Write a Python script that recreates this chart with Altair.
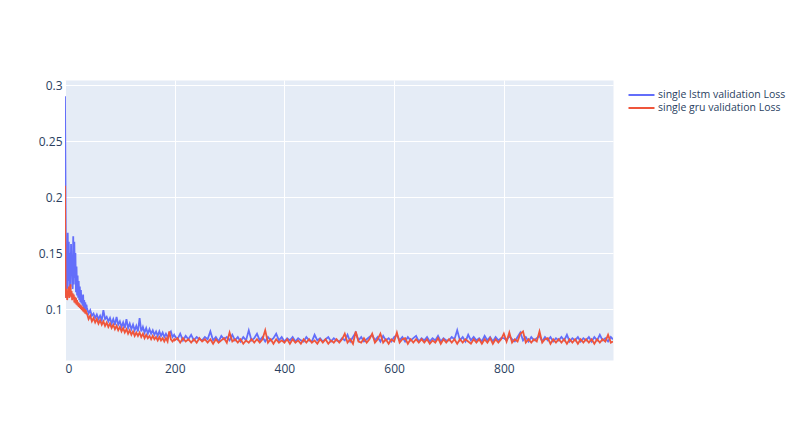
import altair as alt
import pandas as pd

# epochs (dense early, sparser later)
early_epochs = list(range(0, 40))
mid_epochs = list(range(40, 200, 3))
late_epochs = list(range(200, 1000, 5)) + [999]

series_names = ["single lstm validation Loss", "single gru validation Loss"]
series_colors = ["#636EFA", "#EF553B"]

lstm_early = [0.290, 0.205, 0.110, 0.150, 0.118, 0.168, 0.125, 0.160, 0.113, 0.150,
              0.120, 0.158, 0.130, 0.145, 0.118, 0.165, 0.122, 0.160, 0.128, 0.150,
              0.115, 0.138, 0.112, 0.130, 0.110, 0.125, 0.108, 0.120, 0.106, 0.117,
              0.105, 0.112, 0.103, 0.113, 0.101, 0.108, 0.100, 0.106, 0.099, 0.104]
lstm_mid = [0.101, 0.096, 0.099, 0.094, 0.096, 0.092, 0.095, 0.091, 0.094, 0.090,
            0.099, 0.091, 0.093, 0.089, 0.092, 0.087, 0.091, 0.086, 0.093, 0.086,
            0.089, 0.084, 0.088, 0.083, 0.091, 0.083, 0.087, 0.082, 0.086, 0.081,
            0.085, 0.080, 0.092, 0.080, 0.084, 0.079, 0.083, 0.078, 0.082, 0.078,
            0.081, 0.077, 0.080, 0.076, 0.080, 0.076, 0.079, 0.075, 0.078, 0.075,
            0.078, 0.080, 0.075, 0.077]
lstm_late = [0.076, 0.073, 0.078, 0.072, 0.076, 0.073, 0.077, 0.072, 0.075, 0.073,
             0.072, 0.075, 0.073, 0.080, 0.072, 0.075, 0.071, 0.076, 0.073, 0.075,
             0.072, 0.077, 0.072, 0.075, 0.071, 0.075, 0.072, 0.081, 0.072, 0.074,
             0.078, 0.072, 0.075, 0.071, 0.075, 0.072, 0.074, 0.078, 0.072, 0.075,
             0.071, 0.074, 0.072, 0.075, 0.071, 0.074, 0.072, 0.071, 0.075, 0.072,
             0.071, 0.077, 0.072, 0.074, 0.071, 0.073, 0.075, 0.071, 0.074, 0.072,
             0.071, 0.074, 0.072, 0.077, 0.071, 0.075, 0.079, 0.072, 0.075, 0.071,
             0.073, 0.075, 0.077, 0.072, 0.075, 0.071, 0.076, 0.072, 0.074, 0.071,
             0.075, 0.077, 0.072, 0.075, 0.071, 0.075, 0.072, 0.074, 0.076, 0.071,
             0.074, 0.072, 0.075, 0.071, 0.074, 0.072, 0.076, 0.071, 0.074, 0.072,
             0.072, 0.075, 0.073, 0.081, 0.072, 0.075, 0.071, 0.077, 0.072, 0.075,
             0.072, 0.074, 0.071, 0.076, 0.072, 0.075, 0.071, 0.075, 0.072, 0.074,
             0.074, 0.072, 0.076, 0.073, 0.071, 0.075, 0.079, 0.072, 0.075, 0.071,
             0.075, 0.072, 0.074, 0.076, 0.071, 0.075, 0.072, 0.075, 0.071, 0.074,
             0.072, 0.075, 0.072, 0.077, 0.071, 0.074, 0.072, 0.075, 0.071, 0.074,
             0.072, 0.075, 0.071, 0.075, 0.072, 0.077, 0.072, 0.074, 0.071, 0.075,
             0.073]

gru_early = [0.210, 0.120, 0.110, 0.118, 0.108, 0.115, 0.112, 0.120, 0.110, 0.117,
             0.122, 0.111, 0.116, 0.108, 0.114, 0.110, 0.113, 0.106, 0.111, 0.105,
             0.110, 0.104, 0.108, 0.103, 0.106, 0.102, 0.105, 0.101, 0.104, 0.100,
             0.103, 0.099, 0.102, 0.098, 0.101, 0.097, 0.100, 0.096, 0.099, 0.096]
gru_mid = [0.096, 0.091, 0.094, 0.089, 0.092, 0.088, 0.091, 0.087, 0.090, 0.086,
           0.089, 0.085, 0.088, 0.084, 0.087, 0.083, 0.086, 0.082, 0.085, 0.081,
           0.084, 0.080, 0.083, 0.079, 0.082, 0.078, 0.081, 0.077, 0.080, 0.076,
           0.079, 0.076, 0.079, 0.075, 0.078, 0.074, 0.077, 0.074, 0.076, 0.073,
           0.076, 0.073, 0.075, 0.072, 0.075, 0.072, 0.074, 0.071, 0.074, 0.071,
           0.080, 0.073, 0.071, 0.073]
gru_late = [0.072, 0.074, 0.070, 0.074, 0.071, 0.073, 0.070, 0.073, 0.070, 0.074,
            0.071, 0.073, 0.070, 0.073, 0.069, 0.073, 0.070, 0.072, 0.074, 0.070,
            0.079, 0.071, 0.073, 0.070, 0.073, 0.069, 0.072, 0.070, 0.073, 0.070,
            0.073, 0.070, 0.073, 0.081, 0.070, 0.073, 0.069, 0.073, 0.070, 0.072,
            0.070, 0.073, 0.069, 0.073, 0.070, 0.072, 0.069, 0.073, 0.070, 0.073,
            0.070, 0.072, 0.069, 0.073, 0.070, 0.073, 0.069, 0.072, 0.070, 0.073,
            0.070, 0.073, 0.078, 0.070, 0.073, 0.069, 0.080, 0.071, 0.070, 0.074,
            0.070, 0.073, 0.078, 0.070, 0.073, 0.078, 0.070, 0.073, 0.069, 0.073,
            0.071, 0.079, 0.070, 0.073, 0.074, 0.069, 0.073, 0.070, 0.073, 0.070,
            0.073, 0.070, 0.073, 0.069, 0.072, 0.070, 0.074, 0.069, 0.073, 0.070,
            0.073, 0.070, 0.073, 0.069, 0.073, 0.070, 0.073, 0.071, 0.069, 0.073,
            0.070, 0.073, 0.069, 0.073, 0.070, 0.074, 0.069, 0.073, 0.070, 0.073,
            0.078, 0.071, 0.079, 0.070, 0.073, 0.071, 0.078, 0.080, 0.070, 0.073,
            0.070, 0.073, 0.071, 0.080, 0.070, 0.073, 0.074, 0.069, 0.073, 0.070,
            0.073, 0.070, 0.073, 0.069, 0.073, 0.070, 0.073, 0.069, 0.073, 0.070,
            0.073, 0.070, 0.073, 0.069, 0.073, 0.070, 0.073, 0.071, 0.077, 0.070,
            0.071]

epochs = early_epochs + mid_epochs + late_epochs
lstm_values = lstm_early + lstm_mid + lstm_late
gru_values = gru_early + gru_mid + gru_late

df_lstm = pd.DataFrame({"epoch": epochs, "loss": lstm_values, "series": series_names[0]})
df_gru = pd.DataFrame({"epoch": epochs, "loss": gru_values, "series": series_names[1]})

font = "Open Sans"
text_color = "#2a3f5f"

x_enc = alt.X("epoch:Q",
              scale=alt.Scale(domain=[0, 999], nice=False, zero=False),
              axis=alt.Axis(values=[0, 200, 400, 600, 800], title=None, labelPadding=3,
                            format="d"))
y_enc = alt.Y("loss:Q",
              scale=alt.Scale(domain=[0.0545, 0.3045], nice=False, zero=False),
              axis=alt.Axis(values=[0.1, 0.15, 0.2, 0.25, 0.3], title=None, labelPadding=3,
                            format="~g"))
color_enc = alt.Color("series:N",
                      scale=alt.Scale(domain=series_names, range=series_colors),
                      legend=alt.Legend(title=None, orient="none", legendX=569, legendY=7.5,
                                        symbolType="M-2,0H2", symbolSize=169,
                                        symbolStrokeWidth=2, symbolFillColor="transparent",
                                        labelFontSize=10.5,
                                        labelFont=font, labelColor=text_color,
                                        rowPadding=-1.5, padding=0, labelOffset=9,
                                        labelLimit=300))

lstm_line = alt.Chart(df_lstm).mark_line(strokeWidth=1.8, clip=True).encode(
    x=x_enc, y=y_enc, color=color_enc)
gru_line = alt.Chart(df_gru).mark_line(strokeWidth=1.8, clip=True).encode(
    x=x_enc, y=y_enc, color=color_enc)

chart = alt.layer(lstm_line, gru_line).properties(
    width=548, height=280,
    autosize=alt.AutoSizeParams(type="none"),
    padding={"left": 57, "top": 72, "right": 179, "bottom": 55},
    background="white",
).configure_view(
    fill="#E5ECF6", stroke="transparent"
).configure_axis(
    domain=False, ticks=False, grid=True, gridColor="white", gridWidth=1,
    labelFont=font, labelFontSize=12, labelColor=text_color,
)

chart.save("out.html", embed_options={"renderer": "svg", "actions": False})
